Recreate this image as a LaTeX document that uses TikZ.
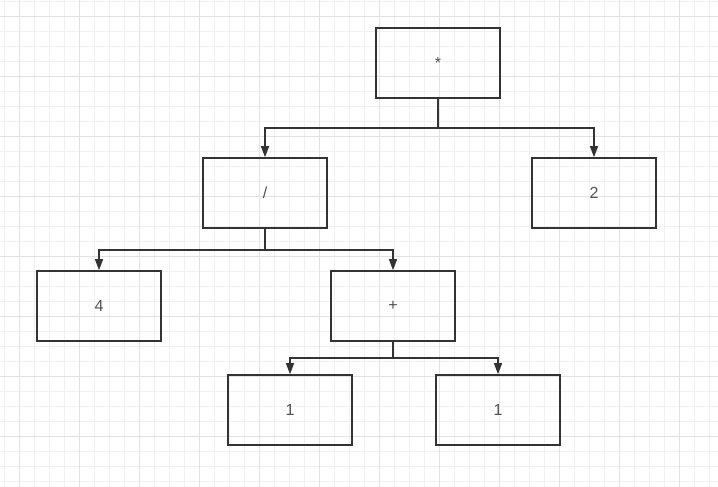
\documentclass[tikz,border=0pt]{standalone}
\usepackage{fontspec}
\setmainfont{Liberation Sans}
\usetikzlibrary{arrows.meta}
\definecolor{minorg}{HTML}{F0F0F0}
\definecolor{majorg}{HTML}{E2E2E2}
\definecolor{ink}{HTML}{333333}
\tikzset{
  box/.style={draw=ink, line width=1.6pt, minimum width=124pt, minimum height=70pt, inner sep=0pt, font=\fontsize{16}{18}\selectfont, text=ink!85},
  arr/.style={draw=ink, line width=1.3pt, -{Triangle[length=11pt,width=8pt]}},
}
\begin{document}
\begin{tikzpicture}[x=1pt,y=-1pt]
\useasboundingbox (0,0) rectangle (718,487);
\fill[white] (0,0) rectangle (718,487);
% grid
\foreach \i in {0,...,47} {
  \pgfmathsetmacro\xx{4+15*\i}
  \draw[minorg, line width=0.8pt] (\xx,0) -- (\xx,487);
}
\foreach \i in {0,...,32} {
  \pgfmathsetmacro\yy{1.7+15*\i}
  \draw[minorg, line width=0.8pt] (0,\yy) -- (718,\yy);
}
\foreach \i in {0,...,11} {
  \pgfmathsetmacro\xx{19+60*\i}
  \draw[majorg, line width=0.8pt] (\xx,0) -- (\xx,487);
}
\foreach \i in {0,...,8} {
  \pgfmathsetmacro\yy{16.7+60*\i}
  \draw[majorg, line width=0.8pt] (0,\yy) -- (718,\yy);
}
% nodes
\node[box] (star) at (438,63) {*};
\node[box] (div) at (265,193) {/};
\node[box] (two) at (594,193) {2};
\node[box] (four) at (99,306) {4};
\node[box] (plus) at (393,306) {+};
\node[box] (oneA) at (290,410) {1};
\node[box] (oneB) at (498,410) {1};
% junctions
\coordinate (j1) at (438,128);
\coordinate (j2) at (265,250);
\coordinate (j3) at (393,358);
% connectors
\draw[arr] (star.south) -- (j1) -| (div.north);
\draw[arr] (star.south) -- (j1) -| (two.north);
\draw[arr] (div.south) -- (j2) -| (four.north);
\draw[arr] (div.south) -- (j2) -| (plus.north);
\draw[arr] (plus.south) -- (j3) -| (oneA.north);
\draw[arr] (plus.south) -- (j3) -| (oneB.north);
\end{tikzpicture}
\end{document}
